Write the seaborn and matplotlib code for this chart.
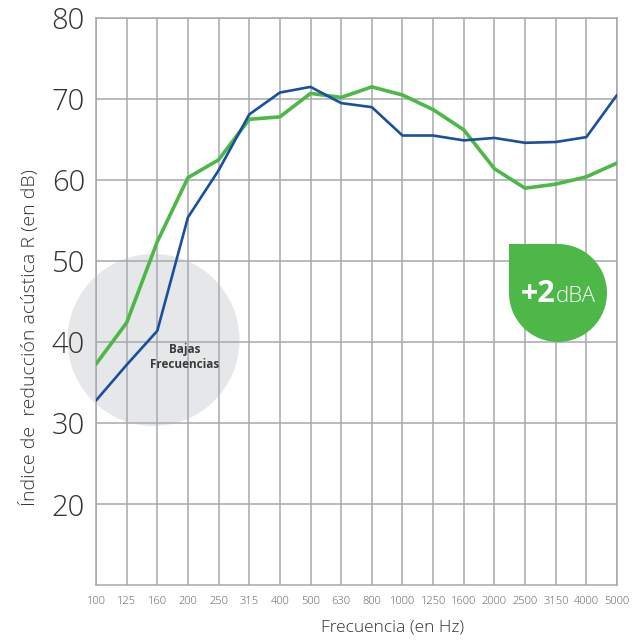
import numpy as np
import pandas as pd
import matplotlib
matplotlib.use('Agg')
import matplotlib.pyplot as plt
import seaborn as sns
from matplotlib.patches import Ellipse, Rectangle

freqs = ['100', '125', '160', '200', '250', '315', '400', '500', '630', '800',
         '1000', '1250', '1600', '2000', '2500', '3150', '4000', '5000']
r_blue = [32.8, 37.2, 41.4, 55.4, 61.2, 68.1, 70.8, 71.5, 69.5, 69.0,
          65.5, 65.5, 64.9, 65.2, 64.6, 64.7, 65.3, 70.5]
r_green = [37.3, 42.4, 52.4, 60.3, 62.5, 67.5, 67.8, 70.7, 70.2, 71.5,
           70.5, 68.7, 66.2, 61.4, 59.0, 59.5, 60.4, 62.1]
y_ticks = [20, 30, 40, 50, 60, 70, 80]

sns.set_style('white')
plt.rcParams['font.family'] = ['Open Sans', 'DejaVu Sans']

W, H = 639, 640
fig = plt.figure(figsize=(W / 100, H / 100), dpi=100)
ax = fig.add_axes([96 / W, 1 - 585.3 / H, (617 - 96) / W, (585.3 - 18) / H])

pos = np.arange(len(freqs))
df = pd.DataFrame({'pos': np.concatenate([pos, pos]),
                   'R': r_blue + r_green,
                   'serie': ['azul'] * len(freqs) + ['verde'] * len(freqs)})

grid_col = '#a5a9ae'
ax.set_axisbelow(True)
ax.grid(True, color=grid_col, linewidth=1.1)
for s in ax.spines.values():
    s.set_color(grid_col)
    s.set_linewidth(1.1)

# low-frequency circle, behind grid
fx = lambda px: px / W
fy = lambda py: 1 - py / H
circ = Ellipse((fx(153.5), fy(340)), 172 / W, 172 / H, transform=fig.transFigure,
               facecolor='#e6e7e8', edgecolor='none', zorder=0.2, clip_on=False)
ax.add_patch(circ)
ax.text(fx(185), fy(357), 'Bajas\nFrecuencias', transform=fig.transFigure,
        ha='center', va='center', fontsize=8.5, fontweight='bold', color='#3a3a3a',
        linespacing=1.25, zorder=3)

sns.lineplot(data=df[df.serie == 'verde'], x='pos', y='R', color='#4db848',
             linewidth=2.6, ax=ax, zorder=3)
sns.lineplot(data=df[df.serie == 'azul'], x='pos', y='R', color='#1a4fa0',
             linewidth=1.9, ax=ax, zorder=4)

ax.set_xlim(0, len(freqs) - 1)
ax.set_ylim(10, 80)
ax.set_xticks(pos)
ax.set_xticklabels(freqs, fontsize=8, color='#5a5a5a', fontweight='light')
ax.set_yticks(y_ticks)
ax.set_yticklabels([str(v) for v in y_ticks], fontsize=21, color='#333333',
                   fontweight='light')
ax.tick_params(axis='both', length=0)
ax.tick_params(axis='x', pad=8)
ax.tick_params(axis='y', pad=8)
ax.set_xlabel('Frecuencia (en Hz)', fontsize=12.5, color='#333333', fontweight='light')
ax.set_ylabel('Índice de  reducción acústica R (en dB)', fontsize=14,
              color='#333333', fontweight='light')
ax.xaxis.set_label_coords(297 / 521, -33.7 / 567.3)
ax.yaxis.set_label_coords(-57 / 521, 247.3 / 567.3)

# +2dBA badge
green = '#4db848'
ax.add_patch(Ellipse((fx(558), fy(293)), 98 / W, 98 / H, transform=fig.transFigure,
                     facecolor=green, edgecolor='none', zorder=5, clip_on=False))
ax.add_patch(Rectangle((fx(509), fy(293)), 49 / W, 49 / H, transform=fig.transFigure,
                       facecolor=green, edgecolor='none', zorder=5, clip_on=False))
ax.text(fx(555), fy(302), '+2', transform=fig.transFigure, ha='right', va='baseline',
        fontsize=22, fontweight='bold', color='white', zorder=6)
ax.text(fx(556), fy(302), 'dBA', transform=fig.transFigure, ha='left', va='baseline',
        fontsize=16, fontweight='light', color='white', zorder=6)

fig.savefig('out.png', dpi=100)
